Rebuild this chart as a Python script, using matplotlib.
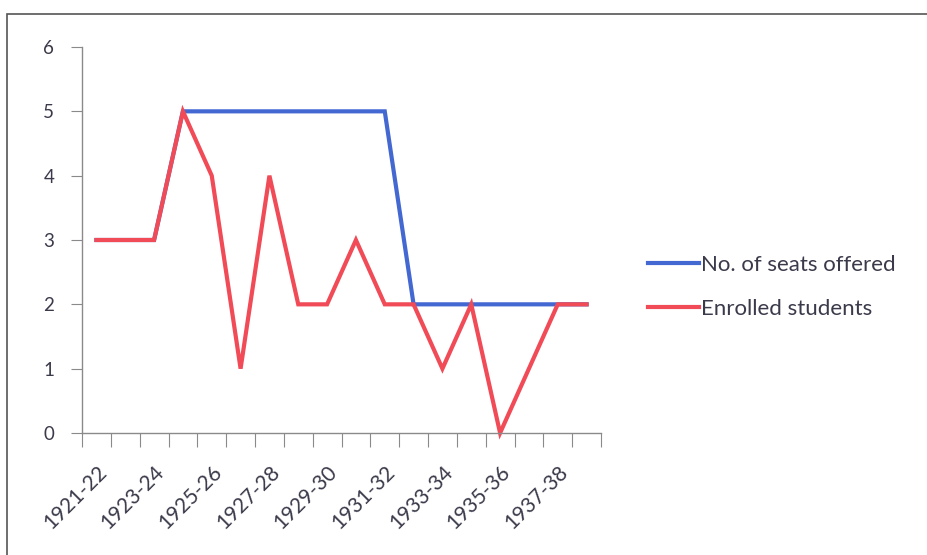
import matplotlib.pyplot as plt
from matplotlib.patches import Rectangle
from matplotlib.lines import Line2D

plt.rcParams['font.family'] = ['Lato', 'DejaVu Sans']

years = ["1921-22", "1922-23", "1923-24", "1924-25", "1925-26", "1926-27",
         "1927-28", "1928-29", "1929-30", "1930-31", "1931-32", "1932-33",
         "1933-34", "1934-35", "1935-36", "1936-37", "1937-38", "1938-39"]
seats = [3, 3, 3, 5, 5, 5, 5, 5, 5, 5, 5, 2, 2, 2, 2, 2, 2, 2]
enrolled = [3, 3, 3, 5, 4, 1, 4, 2, 2, 3, 2, 2, 1, 2, 0, 1, 2, 2]

blue = "#4468d2"
red = "#f04b57"
axis_col = "#8a8a8a"
text_col = "#3a3a4a"

fig = plt.figure(figsize=(9.27, 5.55), dpi=100)
fig.patches.append(Rectangle((7 / 927, -0.1), 1.1, 1 - 14 / 555 + 0.1,
                             transform=fig.transFigure, fill=False,
                             edgecolor="#555555", lw=1.2))

ax = fig.add_axes([82 / 927, 1 - 433 / 555, (601 - 82) / 927, (433 - 47) / 555])
x = list(range(len(years)))
ax.plot(x, seats, color=blue, lw=3, solid_joinstyle="miter", clip_on=False)
ax.plot(x, enrolled, color=red, lw=3, solid_joinstyle="miter", clip_on=False)

ax.set_xlim(-0.5, len(years) - 0.5)
ax.set_ylim(0, 6)
for s in ["top", "right"]:
    ax.spines[s].set_visible(False)
for s in ["left", "bottom"]:
    ax.spines[s].set_color(axis_col)
    ax.spines[s].set_linewidth(1.0)

ax.set_yticks(range(7))
ax.tick_params(axis="y", length=8, color=axis_col, labelsize=13.5,
               labelcolor=text_col, pad=12)

# boundary tick marks, labels on every second category
ax.set_xticks([i - 0.5 for i in range(len(years) + 1)])
ax.set_xticklabels([])
ax.set_xticks(x[::2], minor=True)
ax.set_xticklabels(years[::2], minor=True, rotation=45, ha="right",
                   rotation_mode="anchor", fontsize=15, color=text_col)
ax.tick_params(axis="x", which="major", length=10, color=axis_col)
ax.tick_params(axis="x", which="minor", length=0, pad=21)

handles = [Line2D([], [], color=blue, lw=3), Line2D([], [], color=red, lw=3)]
fig.legend(handles, ["No. of seats offered", "Enrolled students"],
           loc="center left", bbox_to_anchor=(628 / 927, 1 - 287 / 555),
           frameon=False, fontsize=16, handlelength=2.3, handletextpad=0.1,
           labelspacing=1.1, labelcolor=text_col)

fig.savefig("out.png", dpi=100)
